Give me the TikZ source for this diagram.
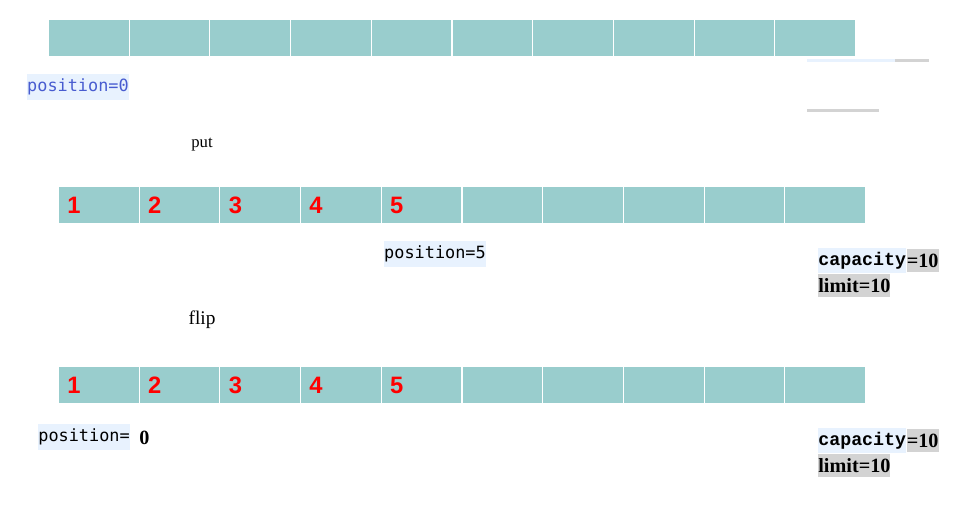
\documentclass[tikz,border=0pt]{standalone}
\usepackage{fontspec}
\setmainfont{Liberation Serif}
\newfontfamily\posfont{DejaVu Sans Mono}
\newfontfamily\numfont{Liberation Sans}
\newfontfamily\capfont{Liberation Mono}
\definecolor{cellfill}{RGB}{153,205,205}
\definecolor{tagblue}{RGB}{232,242,254}
\definecolor{taggray}{RGB}{211,211,211}
\definecolor{posblue}{RGB}{72,92,208}

\tikzset{
  cell/.style={fill=cellfill, draw=white, line width=0.6pt, minimum width=1.614cm, minimum height=0.74cm, inner sep=0pt, anchor=north west},
  num/.style={text=red, font=\numfont\bfseries\fontsize{13.5}{14}\selectfont, inner sep=0pt, anchor=west},
  postag/.style={fill=tagblue, font=\posfont\fontsize{9.6}{10}\selectfont, inner xsep=0pt, inner ysep=0pt, minimum height=0.52cm},
  tagb/.style={fill=tagblue, font=\capfont\bfseries\fontsize{10.4}{12}\selectfont, inner sep=0pt, minimum height=0.5cm, anchor=west},
  tagg/.style={fill=taggray, font=\bfseries\fontsize{11.5}{12}\selectfont, inner sep=0pt, minimum height=0.46cm, anchor=west}
}

\begin{document}
\begin{tikzpicture}[x=0.02cm, y=-0.02cm]
  \useasboundingbox (0,0) rectangle (970,516);

  % empty buffer
  \foreach \i in {0,...,9}
    \node[cell] (a\i) at ({48+80.7*\i},19) {};
  \node[postag, text=posblue] (pos0) at (78,87) {position=0};
  \fill[tagblue] (807,59) rectangle (895,62);
  \fill[taggray] (895,59) rectangle (929,62);
  \fill[taggray] (807,109) rectangle (879,112);

  \node[font=\fontsize{9.5}{10}\selectfont, inner sep=0pt] (put) at (202,145) {put};

  % after put
  \foreach \i in {0,...,9}
    \node[cell] (b\i) at ({58+80.7*\i},186) {};
  \foreach \i [count=\n] in {0,...,4}
    \node[num] at ([xshift=0.18cm]b\i.west) {\n};
  \node[postag] (pos5) at (435,254) {position=5};
  \node[tagb] (capb) at (818,260.5) {capacity};
  \node[tagg] (capg) at (capb.east) {=10};
  \node[tagg] (limb) at (818,285.5) {limit=10};

  \node[font=\fontsize{11}{11}\selectfont, inner sep=0pt] (flip) at (202,320) {flip};

  % after flip
  \foreach \i in {0,...,9}
    \node[cell] (c\i) at ({58+80.7*\i},366) {};
  \foreach \i [count=\n] in {0,...,4}
    \node[num] at ([xshift=0.18cm]c\i.west) {\n};
  \node[postag, text width=1.84cm, align=left, anchor=west] (posf) at (38,437) {position=};
  \node[font=\bfseries\fontsize{11.5}{12}\selectfont, inner sep=0pt, anchor=west] (zero) at (139,438) {0};
  \node[tagb] (capc) at (818,440.5) {capacity};
  \node[tagg] (capd) at (capc.east) {=10};
  \node[tagg] (limc) at (818,465.5) {limit=10};
\end{tikzpicture}
\end{document}
